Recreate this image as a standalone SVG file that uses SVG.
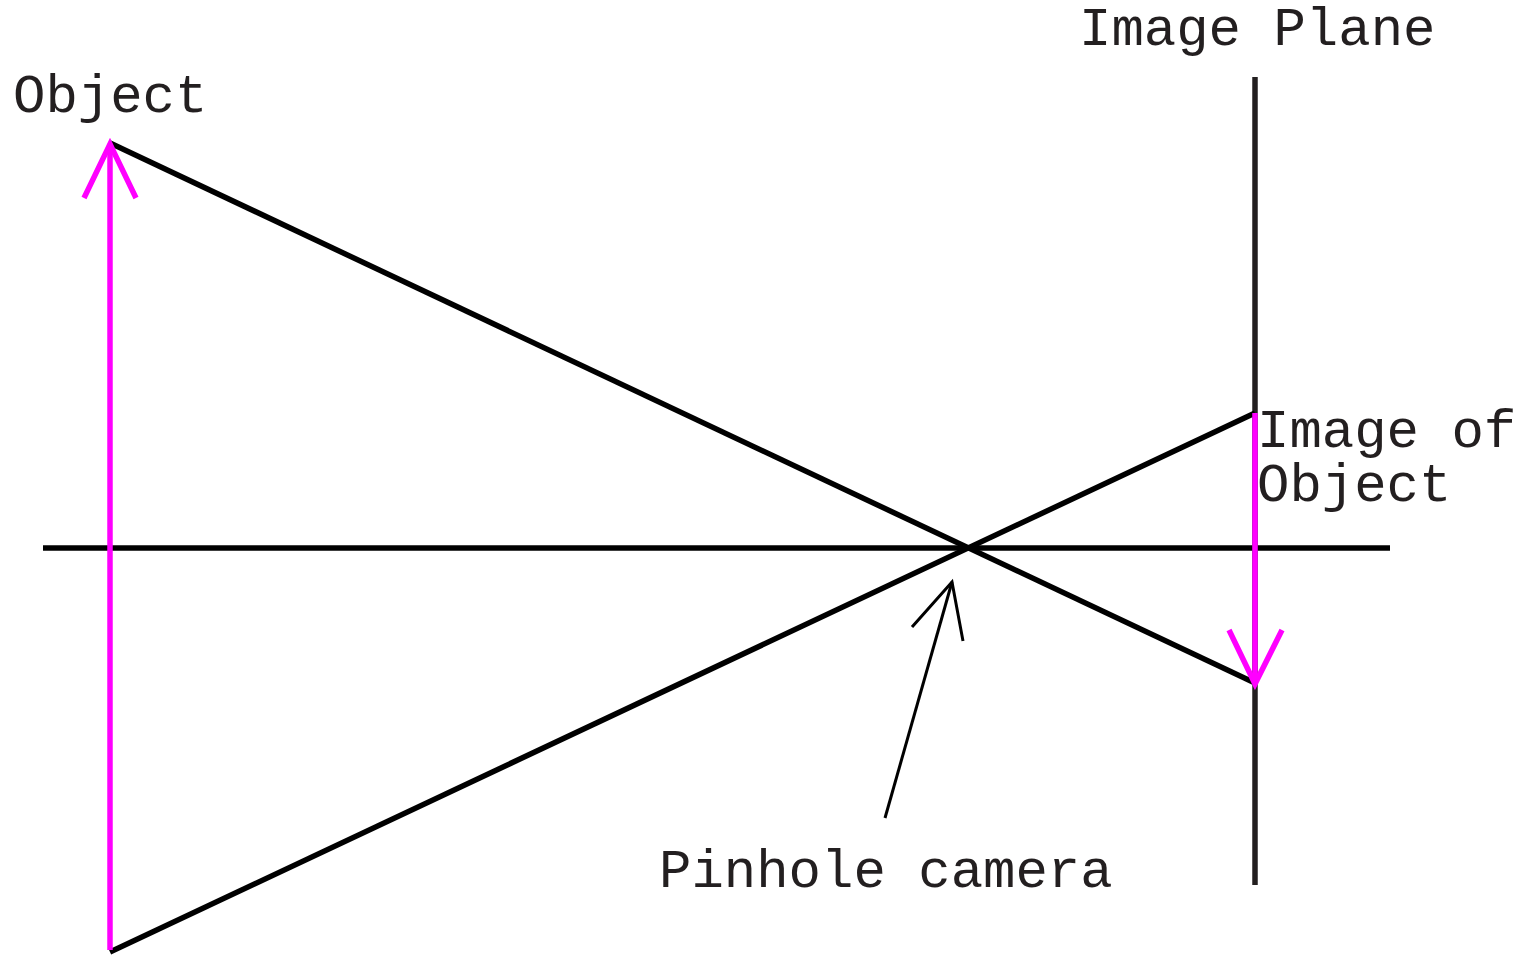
<svg xmlns="http://www.w3.org/2000/svg" width="1527" height="956" viewBox="0 0 1527 956">
<style>
.t{font-family:"Liberation Mono","Courier New",monospace;font-size:54px;fill:#231f20}
.k{stroke:#000;stroke-width:5.5;fill:none}
.m{stroke:#ff00ff;stroke-width:5.5;fill:none}
</style>
<rect width="1527" height="956" fill="#fff"/>
<g id="connectors">
<line class="k" x1="43" y1="548" x2="1390" y2="548"/>
<line x1="1255" y1="77" x2="1255" y2="885" stroke="#231f20" stroke-width="5.5"/>
<line class="k" x1="110" y1="143" x2="1255" y2="683"/>
<line class="k" x1="110" y1="952" x2="1255" y2="413"/>
<g id="object-arrow">
<line class="m" x1="110" y1="950" x2="110" y2="145"/>
<polyline class="m" points="84,198 110,144 136,198"/>
</g>
<g id="image-arrow">
<line class="m" x1="1255" y1="413" x2="1255" y2="683"/>
<polyline class="m" points="1229,630 1255,684 1282,630"/>
</g>
<g id="pinhole-pointer">
<line x1="885" y1="818" x2="952" y2="582" stroke="#000" stroke-width="3"/>
<polyline points="912,627 952,582 963,641" stroke="#000" stroke-width="3" fill="none"/>
</g>
</g>
<g id="label-object"><text class="t" x="13" y="112">Object</text></g>
<g id="label-image-plane"><text class="t" x="1079" y="45">Image Plane</text></g>
<g id="label-image-of-object"><text class="t" x="1257" y="447">Image of</text><text class="t" x="1257" y="501">Object</text></g>
<g id="label-pinhole"><text class="t" x="659" y="887">Pinhole camera</text></g>
</svg>
